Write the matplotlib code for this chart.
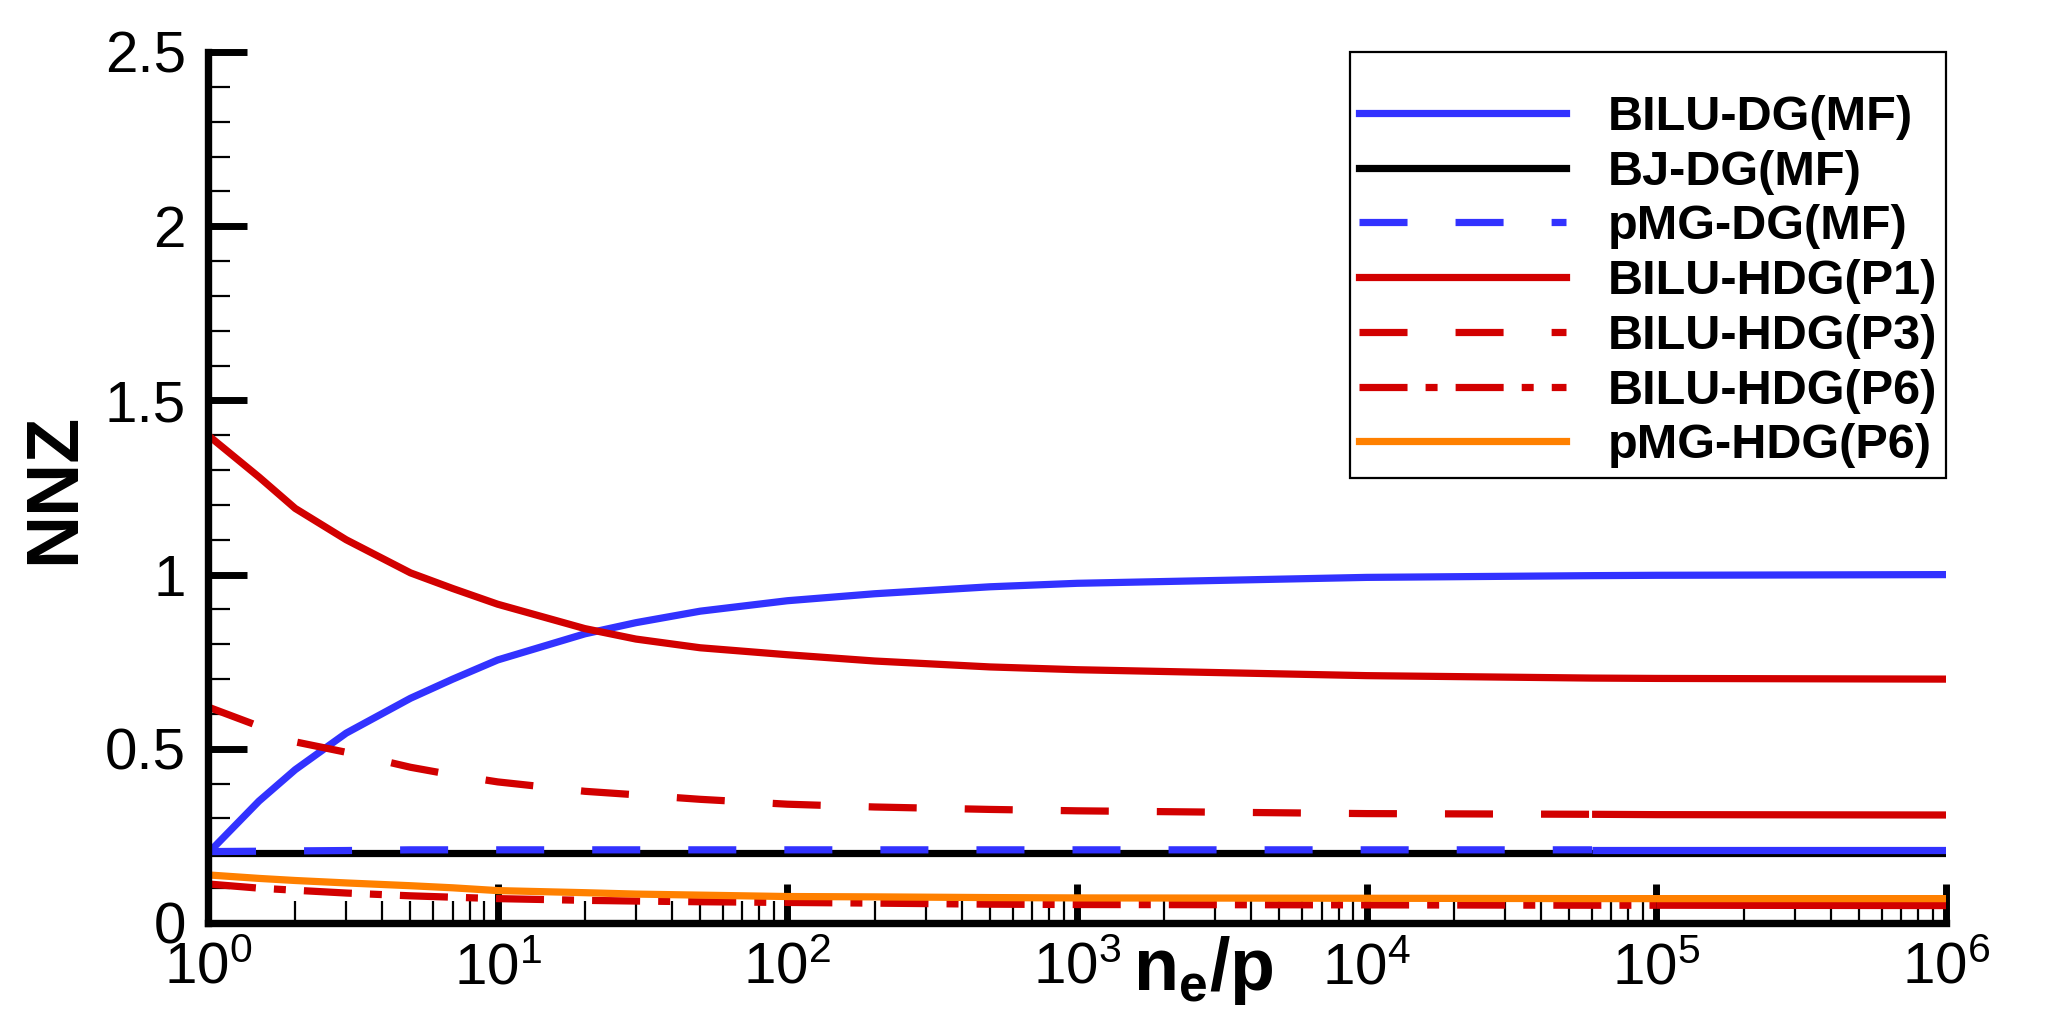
import numpy as np
import matplotlib
matplotlib.use("Agg")
import matplotlib.pyplot as plt
from matplotlib.ticker import LogLocator, MultipleLocator, FuncFormatter, NullFormatter

plt.rcParams['font.family'] = ['Liberation Sans', 'DejaVu Sans']
plt.rcParams['mathtext.fontset'] = 'custom'
plt.rcParams['mathtext.rm'] = 'Liberation Sans'
plt.rcParams['mathtext.it'] = 'Liberation Sans:italic'
plt.rcParams['mathtext.bf'] = 'Liberation Sans:bold'

# elements per processor
ne_p = [1, 1.5, 2, 3, 5, 7, 10, 20, 30, 50, 100, 200, 500, 1e3, 1e4, 6e4, 1e5, 1e6]

bilu_dg = [0.20, 0.35, 0.44, 0.545, 0.645, 0.70, 0.755, 0.83, 0.862, 0.895, 0.925,
           0.945, 0.965, 0.975, 0.992, 0.997, 0.998, 1.0]
bj_dg = [0.20] * 18
pmg_dg = [0.205, 0.206, 0.207, 0.208, 0.21, 0.21, 0.21, 0.21, 0.21, 0.21, 0.21,
          0.21, 0.21, 0.21, 0.21, 0.21, 0.21, 0.21]
bilu_hdg_p1 = [1.40, 1.28, 1.19, 1.10, 1.005, 0.96, 0.915, 0.845, 0.815, 0.79, 0.77,
               0.752, 0.735, 0.727, 0.71, 0.703, 0.702, 0.70]
bilu_hdg_p3 = [0.62, 0.565, 0.52, 0.49, 0.447, 0.425, 0.405, 0.378, 0.368, 0.355, 0.341,
               0.333, 0.326, 0.322, 0.314, 0.312, 0.311, 0.31]
bilu_hdg_p6 = [0.112, 0.10, 0.094, 0.086, 0.078, 0.074, 0.07, 0.065, 0.063, 0.061, 0.059,
               0.057, 0.054, 0.053, 0.052, 0.051, 0.051, 0.05]
pmg_hdg_p6 = [0.138, 0.128, 0.122, 0.115, 0.107, 0.101, 0.093, 0.087, 0.083, 0.08, 0.076,
              0.075, 0.073, 0.072, 0.071, 0.07, 0.07, 0.07]

blue = '#3232ff'
red = '#d20000'
orange = '#ff8000'
lw = 5.2
dash = (6.65, 6.65)
dashdot = (6.65, 2.5, 1.66, 2.5)

fig = plt.figure(figsize=(20.48, 10.28), dpi=100)
ax = fig.add_axes([208/2048, 1-923/1028, (1946-208)/2048, (923-52)/1028])

x = np.array(ne_p)
def dashed(y, color, label, pattern, solid_from):   # tecplot draws the dense tail solid
    i = int(np.searchsorted(x, solid_from))
    ax.plot(x[:i+1], y[:i+1], color=color, lw=lw, dashes=pattern, label=label)
    ax.plot(x[i:], y[i:], color=color, lw=lw, solid_capstyle='butt')

ax.plot(x, bilu_dg, color=blue, lw=lw, label='BILU-DG(MF)')
ax.plot(x, bj_dg, color='black', lw=lw, label='BJ-DG(MF)')
dashed(np.array(pmg_dg), blue, 'pMG-DG(MF)', dash, 6e4)
ax.plot(x, bilu_hdg_p1, color=red, lw=lw, label='BILU-HDG(P1)')
dashed(np.array(bilu_hdg_p3), red, 'BILU-HDG(P3)', dash, 6e4)
dashed(np.array(bilu_hdg_p6), red, 'BILU-HDG(P6)', dashdot, 1e5)
ax.plot(x, pmg_hdg_p6, color=orange, lw=lw, label='pMG-HDG(P6)')

ax.set_xscale('log')
ax.set_xlim(1, 1e6)
ax.set_ylim(0, 2.5)
ax.xaxis.set_major_locator(LogLocator(base=10, numticks=10))
ax.xaxis.set_minor_locator(LogLocator(base=10, subs=np.arange(2, 10), numticks=20))
ax.xaxis.set_minor_formatter(NullFormatter())
ax.yaxis.set_major_locator(MultipleLocator(0.5))
ax.yaxis.set_minor_locator(MultipleLocator(0.1))
ax.yaxis.set_major_formatter(FuncFormatter(lambda v, p: '%g' % v))

for s in ['top', 'right']:
    ax.spines[s].set_visible(False)
for s in ['left', 'bottom']:
    ax.spines[s].set_linewidth(5.3)
    ax.spines[s].set_capstyle('projecting')

ax.tick_params(which='major', direction='in', length=28, width=5, labelsize=42)
ax.tick_params(which='minor', direction='in', length=16, width=1.6)
ax.tick_params(axis='x', which='major', pad=13)
ax.tick_params(axis='y', which='major', pad=16)

fig.text(55/2048, 1-488/1028, 'NNZ', rotation=90, ha='center', va='center',
         fontsize=53, fontweight='bold')
fig.text(1203/2048, 1-990/1028, r'$\mathbf{n_e/p}$', ha='center', va='baseline',
         fontsize=53)

leg = ax.legend(loc='upper right', bbox_to_anchor=(1.0, 1.0), borderaxespad=0,
                prop={'weight': 'bold', 'size': 35},
                handlelength=4.25, handletextpad=0.85, borderpad=0.19,
                labelspacing=0.2, fancybox=False, framealpha=1,
                title=' ', title_fontsize=18)
leg.get_frame().set_edgecolor('black')
leg.get_frame().set_linewidth(1.6)

fig.savefig('out.png', dpi=100)
